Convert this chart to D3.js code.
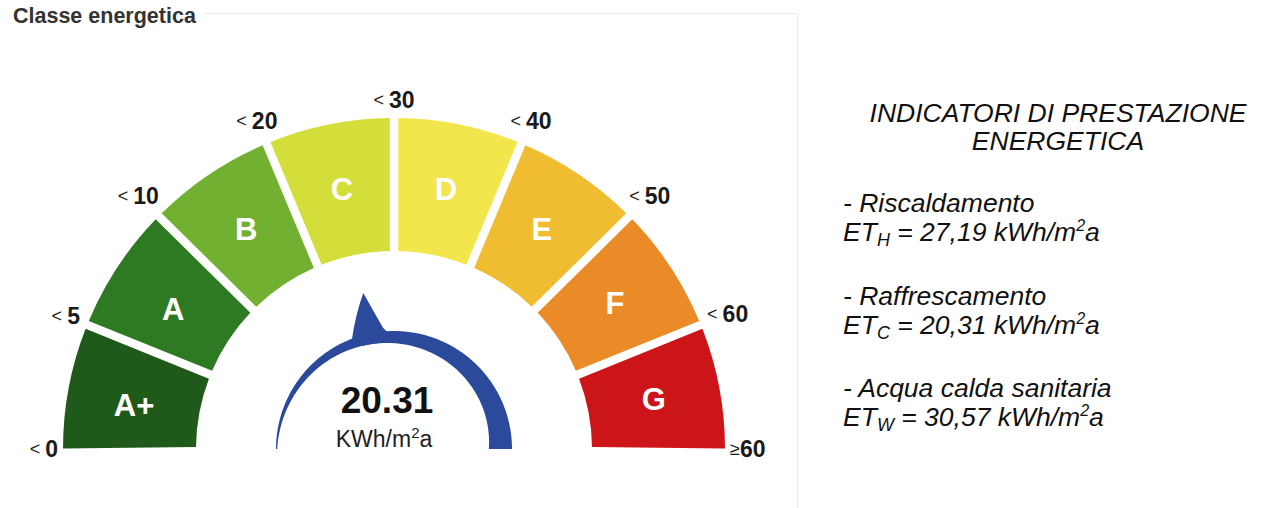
<!DOCTYPE html>
<html>
<head>
<meta charset="utf-8">
<script src="https://cdn.jsdelivr.net/npm/d3@7"></script>
<style>
  body { margin: 0; background: #fff; }
  svg { display: block; font-family: "Liberation Sans", Arial, sans-serif; }
</style>
</head>
<body>
<svg id="chart" width="1261" height="508"></svg>
<script>
// energy classes, thresholds and colours
const classes = ['A+', 'A', 'B', 'C', 'D', 'E', 'F', 'G'];
const thresholdValues = [0, 5, 10, 20, 30, 40, 50, 60];
const thresholdLabels = ['0', '5', '10', '20', '30', '40', '50', '60', '60'];
const thresholdSigns = ['< ', '< ', '< ', '< ', '< ', '< ', '< ', '< ', '≥'];
const classColors = ['#1f5a1b', '#2e7a22', '#72b032', '#d4de3a', '#f3e54c', '#f0bc31', '#eb8b27', '#cc1519'];
const gaugeValue = 20.31;
const gaugeUnit = 'KWh/m';

// indicators on the right
const indicatorNames = ['Riscaldamento', 'Raffrescamento', 'Acqua calda sanitaria'];
const indicatorSubs = ['H', 'C', 'W'];
const indicatorValues = ['27,19', '20,31', '30,57'];

const svg = d3.select('#chart');
const cx = 394, cy = 449;
const innerR = 198, outerR = 331;

// panel border + title
svg.append('path')
  .attr('d', 'M205,13.5 H797.5 V508')
  .attr('fill', 'none')
  .attr('stroke', '#ececec');
svg.append('text')
  .attr('x', 13).attr('y', 23)
  .attr('font-size', 21.5).attr('font-weight', 'bold')
  .attr('fill', '#333')
  .text('Classe energetica');

const g = svg.append('g').attr('transform', `translate(${cx},${cy})`);

const pad = 0.022;
const angle = d3.scaleLinear()
  .domain([0, classes.length])
  .range([-Math.PI / 2 - pad / 2, Math.PI / 2 + pad / 2]);

const arc = d3.arc()
  .innerRadius(innerR)
  .outerRadius(outerR)
  .padAngle(pad);

// segments
g.selectAll('path.seg')
  .data(classes)
  .join('path')
  .attr('class', 'seg')
  .attr('fill', (d, i) => classColors[i])
  .attr('d', (d, i) => arc({ startAngle: angle(i), endAngle: angle(i + 1) }));

// segment letters
const midR = (innerR + outerR) / 2;
g.selectAll('text.cls')
  .data(classes)
  .join('text')
  .attr('class', 'cls')
  .attr('x', (d, i) => midR * Math.sin(angle(i + 0.5)))
  .attr('y', (d, i) => -midR * Math.cos(angle(i + 0.5)) + (i < 2 ? 6 : 0))
  .attr('text-anchor', 'middle')
  .attr('dominant-baseline', 'central')
  .attr('font-size', 31)
  .attr('font-weight', 'bold')
  .attr('fill', '#fff')
  .text(d => d);

// threshold labels
const labR = 336;
thresholdLabels.forEach((lab, i) => {
  const a = i === 0 ? -Math.PI / 2 : i === thresholdLabels.length - 1 ? Math.PI / 2 : angle(i);
  const t = g.append('text')
    .attr('text-anchor', 'middle')
    .attr('dominant-baseline', 'central')
    .attr('fill', '#1a1a1a');
  t.append('tspan').attr('font-size', 18).text(thresholdSigns[i]);
  t.append('tspan').attr('font-size', 23).attr('font-weight', 'bold').text(lab);
  const bb = t.node().getBBox();
  const s = Math.sin(a), c = Math.cos(a);
  const off = Math.abs(s) * bb.width / 2 + Math.abs(c) * bb.height / 2;
  t.attr('x', (labR + off) * s).attr('y', -(labR + off) * c);
});

// blue tapered arc
const bandR = 118;
const band = d3.areaRadial()
  .angle(d => d)
  .outerRadius(bandR)
  .innerRadius(d => bandR - 1.2 - 22 * (d + Math.PI / 2) / Math.PI)
  .curve(d3.curveLinear);
g.append('path')
  .attr('fill', '#2c4a9c')
  .attr('d', band(d3.range(-Math.PI / 2, Math.PI / 2 + 0.001, Math.PI / 180)));

// needle at the middle of the class the value falls in
const cls = d3.bisectRight(thresholdValues, gaugeValue) - 1;
const na = angle(cls + 0.5);
const pt = (r, v) => [r * Math.sin(na) + v * Math.cos(na), -r * Math.cos(na) + v * Math.sin(na)];
const np = d3.path();
np.moveTo(...pt(108, -21));
np.lineTo(...pt(115, -20));
np.quadraticCurveTo(...pt(138, -12), ...pt(159, 0.5));
np.lineTo(...pt(121, 13));
np.quadraticCurveTo(...pt(114, 17), ...pt(106, 27));
np.closePath();
g.append('path').attr('fill', '#2c4a9c').attr('d', np.toString());

// centre value
g.append('text')
  .attr('x', -7).attr('y', -36)
  .attr('text-anchor', 'middle')
  .attr('font-size', 37).attr('font-weight', 'bold')
  .attr('fill', '#111')
  .text(gaugeValue.toFixed(2));
const unit = g.append('text')
  .attr('x', -10).attr('y', -2)
  .attr('text-anchor', 'middle')
  .attr('font-size', 23)
  .attr('fill', '#222');
unit.append('tspan').text(gaugeUnit);
unit.append('tspan').attr('font-size', 15).attr('dy', -9).text('2');
unit.append('tspan').attr('dy', 9).text('a');

// right-hand text
const right = svg.append('g')
  .attr('font-style', 'italic')
  .attr('font-size', 26.5)
  .attr('fill', '#111');
right.append('text').attr('x', 1058).attr('y', 122).attr('text-anchor', 'middle').text('INDICATORI DI PRESTAZIONE');
right.append('text').attr('x', 1058).attr('y', 150).attr('text-anchor', 'middle').text('ENERGETICA');

const lineY = [212, 305, 397];
indicatorNames.forEach((name, i) => {
  right.append('text').attr('x', 843).attr('y', lineY[i]).text('- ' + name);
  const t = right.append('text').attr('x', 843).attr('y', lineY[i] + 29);
  t.append('tspan').text('ET');
  t.append('tspan').attr('font-size', 18).attr('dy', 5).text(indicatorSubs[i]);
  t.append('tspan').attr('dy', -5).text(' = ' + indicatorValues[i] + ' kWh/m');
  t.append('tspan').attr('font-size', 16).attr('dy', -10).text('2');
  t.append('tspan').attr('dy', 10).text('a');
});
</script>
</body>
</html>
